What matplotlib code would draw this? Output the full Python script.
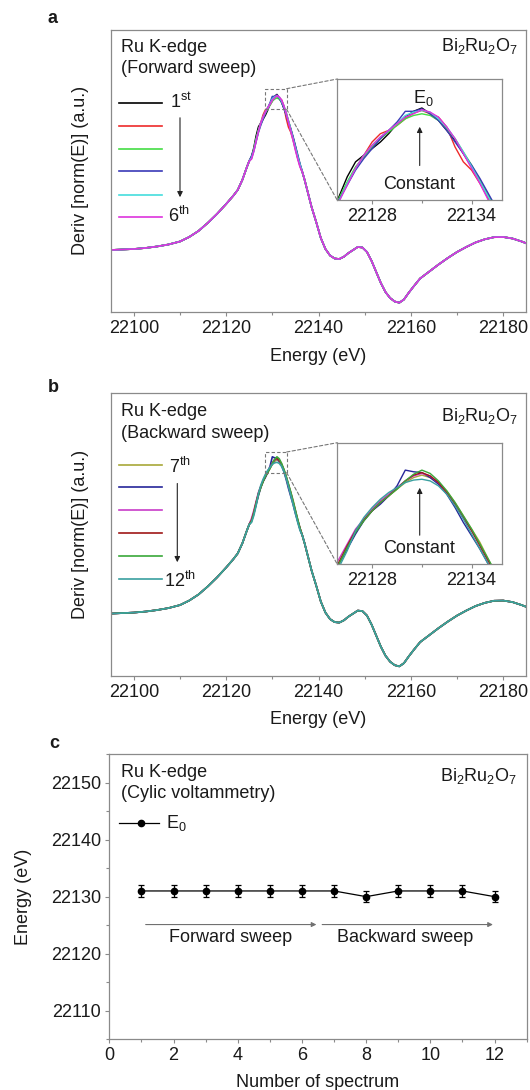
import matplotlib
matplotlib.use('Agg')
import matplotlib.pyplot as plt
from matplotlib.lines import Line2D
from matplotlib.patches import Rectangle, ConnectionPatch, FancyArrowPatch
from matplotlib.ticker import MultipleLocator

plt.rcParams['font.family'] = ['Liberation Sans', 'DejaVu Sans']
plt.rcParams['mathtext.fontset'] = 'custom'
plt.rcParams['mathtext.rm'] = 'Liberation Sans'
plt.rcParams['mathtext.it'] = 'Liberation Sans:italic'
plt.rcParams['mathtext.bf'] = 'Liberation Sans:bold'

# ---------------- data ----------------
# shared derivative curve outside the peak window (energy in eV, deriv in a.u.)
base_lo_E = [22095, 22097.5, 22100, 22102.5, 22105, 22107.5, 22110, 22112, 22114,
             22116, 22118, 22120, 22121.5, 22122.5, 22123.5, 22124.5, 22125]
base_lo_y = [0.00, 0.005, 0.01, 0.02, 0.035, 0.055, 0.085, 0.13, 0.19,
             0.27, 0.36, 0.46, 0.54, 0.60, 0.70, 0.83, 0.89]
base_hi_E = [22136.5, 22137, 22137.5, 22138.5, 22139.5, 22140.5, 22141.5, 22142.5,
             22143.5, 22144.5, 22145.5, 22146.5, 22147.5, 22148.5, 22149.5, 22150.5,
             22151.5, 22152.5, 22153.5, 22154.5, 22155.5, 22156.5, 22157.5, 22158.5,
             22159.5, 22160.5, 22162, 22164, 22166, 22168, 22170, 22172, 22174,
             22176, 22178, 22180, 22182, 22184, 22185]
base_hi_y = [0.78, 0.70, 0.61, 0.43, 0.28, 0.12, 0.01, -0.055,
             -0.085, -0.09, -0.067, -0.03, 0.00, 0.03, 0.025, -0.02,
             -0.11, -0.22, -0.33, -0.42, -0.48, -0.515, -0.527, -0.495,
             -0.43, -0.37, -0.285, -0.215, -0.145, -0.08, -0.02, 0.03, 0.075,
             0.107, 0.128, 0.13, 0.115, 0.085, 0.067]

# peak window energies
win_E = [22125.5, 22126.0, 22126.5, 22127.0, 22127.5, 22128.0, 22128.5, 22129.0,
         22129.5, 22130.0, 22130.5, 22131.0, 22131.5, 22132.0, 22132.5, 22133.0,
         22133.5, 22134.0, 22134.5, 22135.0, 22135.5, 22136.0]

# forward sweep, spectra 1-6
spec_1 = [0.93, 1.02, 1.14, 1.23, 1.27, 1.31, 1.35, 1.40, 1.46, 1.50, 1.535, 1.555, 1.52, 1.48, 1.42, 1.36, 1.28, 1.20, 1.12, 1.03, 0.93, 0.85]
spec_2 = [0.92, 1.00, 1.10, 1.19, 1.27, 1.35, 1.40, 1.42, 1.45, 1.49, 1.525, 1.54, 1.52, 1.50, 1.44, 1.32, 1.23, 1.18, 1.10, 1.01, 0.92, 0.84]
spec_3 = [0.93, 1.01, 1.11, 1.20, 1.26, 1.32, 1.37, 1.41, 1.45, 1.49, 1.51, 1.52, 1.51, 1.48, 1.43, 1.37, 1.29, 1.21, 1.12, 1.03, 0.94, 0.85]
spec_4 = [0.94, 1.00, 1.09, 1.18, 1.25, 1.31, 1.37, 1.42, 1.47, 1.535, 1.535, 1.55, 1.52, 1.48, 1.42, 1.35, 1.28, 1.21, 1.13, 1.04, 0.95, 0.86]
spec_5 = [0.92, 0.99, 1.10, 1.19, 1.27, 1.33, 1.38, 1.42, 1.46, 1.51, 1.53, 1.54, 1.53, 1.49, 1.44, 1.37, 1.29, 1.20, 1.11, 1.02, 0.93, 0.85]
spec_6 = [0.91, 0.99, 1.09, 1.19, 1.27, 1.33, 1.38, 1.42, 1.46, 1.50, 1.52, 1.545, 1.53, 1.50, 1.44, 1.37, 1.28, 1.19, 1.10, 1.00, 0.91, 0.83]
# backward sweep, spectra 7-12
spec_7 = [0.93, 1.01, 1.10, 1.19, 1.26, 1.32, 1.37, 1.41, 1.45, 1.49, 1.52, 1.535, 1.52, 1.49, 1.44, 1.37, 1.29, 1.21, 1.13, 1.03, 0.93, 0.85]
spec_8 = [0.93, 1.00, 1.09, 1.18, 1.26, 1.32, 1.36, 1.41, 1.47, 1.565, 1.555, 1.55, 1.52, 1.48, 1.42, 1.34, 1.25, 1.17, 1.09, 1.00, 0.92, 0.84]
spec_9 = [0.95, 1.03, 1.12, 1.21, 1.27, 1.33, 1.38, 1.42, 1.46, 1.50, 1.53, 1.545, 1.53, 1.49, 1.43, 1.36, 1.28, 1.20, 1.11, 1.02, 0.93, 0.85]
spec_10 = [0.93, 1.01, 1.11, 1.20, 1.265, 1.32, 1.37, 1.41, 1.455, 1.50, 1.535, 1.55, 1.53, 1.49, 1.43, 1.36, 1.28, 1.20, 1.11, 1.02, 0.93, 0.85]
spec_11 = [0.92, 1.00, 1.10, 1.19, 1.26, 1.32, 1.37, 1.41, 1.45, 1.50, 1.54, 1.565, 1.545, 1.50, 1.44, 1.37, 1.29, 1.21, 1.12, 1.03, 0.94, 0.85]
spec_12 = [0.91, 0.98, 1.08, 1.20, 1.28, 1.34, 1.39, 1.43, 1.46, 1.49, 1.505, 1.51, 1.50, 1.47, 1.42, 1.35, 1.27, 1.18, 1.09, 1.00, 0.91, 0.83]

fwd_spectra = [spec_1, spec_2, spec_3, spec_4, spec_5, spec_6]
bwd_spectra = [spec_7, spec_8, spec_9, spec_10, spec_11, spec_12]
fwd_colors = ['#000000', '#ee2a2a', '#44dd44', '#3a3ab8', '#44dddd', '#dd33dd']
bwd_colors = ['#a8a838', '#26269a', '#c83cc8', '#a01818', '#3aa83a', '#3aa0a0']
fwd_first, fwd_last = '1$^{\\mathrm{st}}$', '6$^{\\mathrm{th}}$'
bwd_first, bwd_last = '7$^{\\mathrm{th}}$', '12$^{\\mathrm{th}}$'

main_xticks = [22100, 22120, 22140, 22160, 22180]
inset_xticks = [22128, 22134]

spectrum_no = [1, 2, 3, 4, 5, 6, 7, 8, 9, 10, 11, 12]
e0_values = [22131, 22131, 22131, 22131, 22131, 22131, 22131, 22130, 22131, 22131, 22131, 22130]
e0_err = [1.0, 1.0, 1.0, 1.0, 1.0, 1.0, 1.0, 1.0, 1.0, 1.0, 1.0, 1.0]
c_xticks = [0, 2, 4, 6, 8, 10, 12]
c_yticks = [22110, 22120, 22130, 22140, 22150]

# ---------------- layout helpers ----------------
W, H = 530, 1090
fig = plt.figure(figsize=(W / 100, H / 100), dpi=100)
FS = 13
GRAY = '#8a8a8a'
TXT = '#1a1a1a'


def rect(l, t, r, b):
    return [l / W, 1 - b / H, (r - l) / W, (b - t) / H]


def fx(p):
    return p / W


def fy(p):
    return 1 - p / H


def style_axes(ax):
    for s in ax.spines.values():
        s.set_color(GRAY)
        s.set_linewidth(0.9)
    ax.tick_params(axis='both', which='major', length=3, width=0.8, color=GRAY,
                   labelsize=FS, labelcolor=TXT, pad=2.5, direction='out')
    ax.tick_params(axis='both', which='minor', length=2, width=0.8, color=GRAY,
                   direction='out')


def full_curve(win):
    return base_lo_E + win_E + base_hi_E, base_lo_y + win + base_hi_y


def spectra_panel(top, bottom, spectra, colors, title2, lab_first, lab_last,
                  leg_y, lab_base_first, lab_base_last, arrow_x, arrow_y0, arrow_y1,
                  inset_top, inset_bottom, txt_base, bi_base, const_base,
                  carrow_tail, carrow_tip, show_e0, panel_letter, letter_base,
                  xlabel_base, ylabel_center):
    ax = fig.add_axes(rect(110.7, top, 526.3, bottom))
    style_axes(ax)
    for spec, col in zip(spectra, colors):
        xs, ys = full_curve(spec)
        ax.plot(xs, ys, color=col, lw=1.2, solid_joinstyle='round')
    ax.set_xlim(22095, 22185)
    ax.set_ylim(-0.623, 2.205)
    ax.set_xticks(main_xticks)
    ax.xaxis.set_minor_locator(MultipleLocator(10))
    ax.set_yticks([])

    # dashed zoom box
    ax.add_patch(Rectangle((22128.4, 1.407), 4.7, 0.206, fill=False, ls=(0, (3, 2)),
                           ec='#777777', lw=0.8, zorder=5))

    # inset
    ins = fig.add_axes(rect(337.3, inset_top, 502.3, inset_bottom))
    style_axes(ins)
    for spec, col in zip(spectra, colors):
        ins.plot(win_E, spec, color=col, lw=1.0)
    ins.set_xlim(22125.9, 22135.85)
    ins.set_ylim(0.998, 1.73)
    ins.set_xticks(inset_xticks)
    ins.set_xticks([22131], minor=True)
    ins.set_yticks([])

    for xyA, xyB in [((22133.1, 1.613), (0, 1)), ((22133.1, 1.407), (0, 0))]:
        con = ConnectionPatch(xyA=xyA, coordsA=ax.transData, xyB=xyB,
                              coordsB=ins.transAxes, ls=(0, (3, 2)), color='#777777',
                              lw=0.8)
        fig.add_artist(con)

    # inset annotations
    fig.text(fx(419.2), fy(const_base), 'Constant', ha='center', va='baseline',
             fontsize=FS, color=TXT)
    fig.add_artist(FancyArrowPatch((fx(419.7), fy(carrow_tail)), (fx(419.7), fy(carrow_tip)),
                                   transform=fig.transFigure, arrowstyle='-|>',
                                   mutation_scale=8, lw=0.8, color='#222222'))
    if show_e0:
        fig.text(fx(423), fy(103.3), 'E$_0$', ha='center', va='baseline',
                 fontsize=FS, color=TXT)

    # texts
    fig.text(fx(121), fy(txt_base), 'Ru K-edge', ha='left', va='baseline',
             fontsize=FS, color=TXT)
    fig.text(fx(121), fy(txt_base + 21.5), title2, ha='left', va='baseline',
             fontsize=FS, color=TXT)
    fig.text(fx(517.5), fy(bi_base), 'Bi$_2$Ru$_2$O$_7$', ha='right', va='baseline',
             fontsize=FS, color=TXT)

    # manual legend
    for yy, col in zip(leg_y, colors):
        fig.add_artist(Line2D([fx(118.5), fx(161.7)], [fy(yy), fy(yy)], color=col,
                              lw=1.2, transform=fig.transFigure))
    fig.text(fx(lab_first[1]), fy(lab_base_first), lab_first[0], ha='left',
             va='baseline', fontsize=FS, color=TXT)
    fig.text(fx(lab_last[1]), fy(lab_base_last), lab_last[0], ha='left',
             va='baseline', fontsize=FS, color=TXT)
    fig.add_artist(FancyArrowPatch((fx(arrow_x), fy(arrow_y0)), (fx(arrow_x), fy(arrow_y1)),
                                   transform=fig.transFigure, arrowstyle='-|>',
                                   mutation_scale=8, lw=0.8, color='#222222'))

    fig.text(fx(53), fy(letter_base), panel_letter, ha='center', va='baseline',
             fontsize=FS, fontweight='bold', color=TXT)
    fig.text(fx(318), fy(xlabel_base), 'Energy (eV)', ha='center', va='baseline',
             fontsize=FS, color=TXT)
    fig.text(fx(80.5), fy(ylabel_center), 'Deriv [norm(E)] (a.u.)', ha='center',
             va='center', rotation=90, fontsize=FS, color=TXT)
    return ax


# panel a
spectra_panel(29.5, 312.3, fwd_spectra, fwd_colors, '(Forward sweep)',
              (fwd_first, 169.5), (fwd_last, 168.5),
              [102.7, 126, 148.7, 171.3, 194.7, 216.7], 108.3, 222.3,
              180, 115, 200, 79, 200.3, 51.5, 50.5, 189.3, 168.3, 124, True,
              'a', 23.3, 361, 170.7)

# panel b
spectra_panel(392.7, 676, bwd_spectra, bwd_colors, '(Backward sweep)',
              (bwd_first, 169), (bwd_last, 164.5),
              [464.7, 487.3, 510.3, 533.3, 556, 579], 473.3, 586.7,
              177.3, 480.7, 565, 442.7, 564.3, 416.5, 420.5, 552.7, 538, 485, False,
              'b', 392, 724.5, 534)

# panel c
axc = fig.add_axes(rect(109.4, 754.3, 526.6, 1039))
style_axes(axc)
axc.errorbar(spectrum_no, e0_values, yerr=e0_err, fmt='-o', color='black', ms=4.5,
             lw=0.9, elinewidth=0.9, capsize=2.5, capthick=0.9)
axc.set_xlim(0, 13)
axc.set_ylim(22105, 22155)
axc.set_xticks(c_xticks)
axc.xaxis.set_minor_locator(MultipleLocator(1))
axc.set_yticks(c_yticks)
axc.yaxis.set_minor_locator(MultipleLocator(5))
axc.tick_params(axis='y', which='major', pad=3)

fig.text(fx(121), fy(777.3), 'Ru K-edge', ha='left', va='baseline', fontsize=FS, color=TXT)
fig.text(fx(121), fy(798.5), '(Cylic voltammetry)', ha='left', va='baseline',
         fontsize=FS, color=TXT)
fig.text(fx(517), fy(781), 'Bi$_2$Ru$_2$O$_7$', ha='right', va='baseline',
         fontsize=FS, color=TXT)
fig.add_artist(Line2D([fx(119), fx(159)], [fy(822.7), fy(822.7)], color='black', lw=0.9,
                      transform=fig.transFigure))
fig.add_artist(Line2D([fx(140.5)], [fy(822.7)], color='black', marker='o', ms=4.5,
                      transform=fig.transFigure))
fig.text(fx(166), fy(828.3), 'E$_0$', ha='left', va='baseline', fontsize=FS, color=TXT)

for x0, x1 in [(1.13, 6.45), (6.63, 11.95)]:
    axc.annotate('', xy=(x1, 22125.1), xytext=(x0, 22125.1),
                 arrowprops=dict(arrowstyle='-|>', color='#707070', lw=0.8,
                                 mutation_scale=7, shrinkA=0, shrinkB=0))
axc.text(3.78, 22122.0, 'Forward sweep', ha='center', va='baseline', fontsize=FS, color=TXT)
axc.text(9.21, 22122.0, 'Backward sweep', ha='center', va='baseline', fontsize=FS, color=TXT)

fig.text(fx(54), fy(748.3), 'c', ha='center', va='baseline', fontsize=FS,
         fontweight='bold', color=TXT)
fig.text(fx(318), fy(1087), 'Number of spectrum', ha='center', va='baseline',
         fontsize=FS, color=TXT)
fig.text(fx(23.5), fy(896.7), 'Energy (eV)', ha='center', va='center', rotation=90,
         fontsize=FS, color=TXT)

fig.savefig('out.png', dpi=100)
